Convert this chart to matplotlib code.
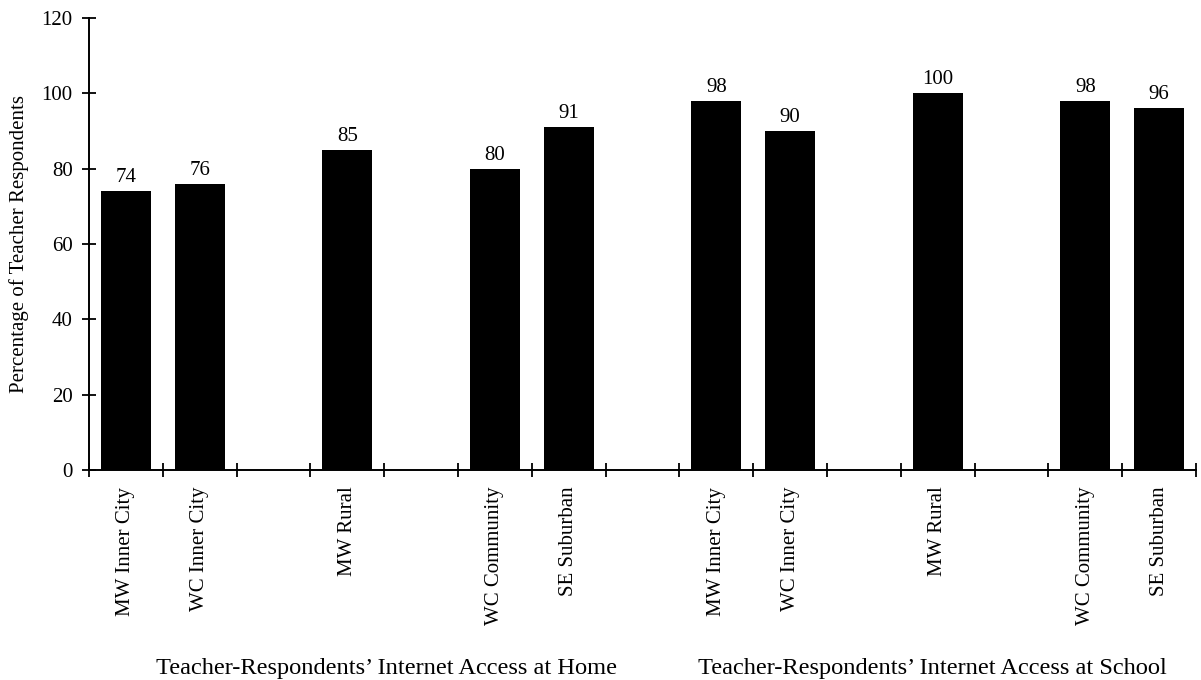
import numpy as np
import matplotlib
matplotlib.use('Agg')
import matplotlib.pyplot as plt

plt.rcParams['font.family'] = ['Liberation Serif', 'DejaVu Serif']

# one slot per category, blank slots are the gaps in the chart
labels = ['MW Inner City', 'WC Inner City', '', 'MW Rural', '', 'WC Community', 'SE Suburban', '',
          'MW Inner City', 'WC Inner City', '', 'MW Rural', '', 'WC Community', 'SE Suburban']
values = [74, 76, None, 85, None, 80, 91, None,
          98, 90, None, 100, None, 98, 96]
groups = ['Teacher-Respondents\u2019 Internet Access at Home',
          'Teacher-Respondents\u2019 Internet Access at School']
yticks = [0, 20, 40, 60, 80, 100, 120]

fig = plt.figure(figsize=(12.01, 6.8), dpi=100)
ax = fig.add_axes([0.0741, 0.3088, 0.9217, 0.6647])

x = np.arange(len(labels))
for xi, v in zip(x, values):
    if v is None:
        continue
    ax.bar(xi, v, width=0.68, color='black', zorder=2)
    ax.annotate(str(v), (xi, v), xytext=(0, 6.5), textcoords='offset points',
                ha='center', va='baseline', fontsize=15)

ax.set_xlim(-0.5, len(labels) - 0.5)
ax.set_ylim(0, 120)
ax.set_yticks(yticks)
ax.tick_params(axis='y', direction='inout', length=9.5, width=1.3, pad=7, labelsize=15)

# boundary ticks without labels, category labels at slot centres
ax.set_xticks(np.arange(-0.5, len(labels)), labels=[''] * (len(labels) + 1))
ax.set_xticks(x, labels=labels, minor=True, rotation=90, va='top', ha='center')
ax.tick_params(axis='x', which='major', direction='inout', length=10, width=1.3)
ax.tick_params(axis='x', which='minor', length=0, pad=12, labelsize=15)

for s in ['top', 'right']:
    ax.spines[s].set_visible(False)
for s in ['left', 'bottom']:
    ax.spines[s].set_linewidth(1.4)

ax.set_ylabel('Percentage of Teacher Respondents', fontsize=15, labelpad=9)

fig.text(386 / 1201, 6 / 680, groups[0], ha='center', va='baseline', fontsize=17.6)
fig.text(932 / 1201, 6 / 680, groups[1], ha='center', va='baseline', fontsize=17.6)

fig.savefig('out.png', dpi=100)
